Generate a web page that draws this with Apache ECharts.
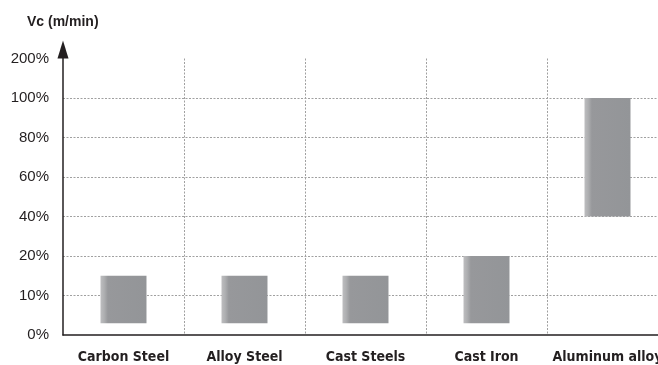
<!DOCTYPE html>
<html><head><meta charset="utf-8">
<script src="https://cdn.jsdelivr.net/npm/echarts@6/dist/echarts.min.js"></script>
<style>html,body{margin:0;padding:0;background:#fff}#c{width:658px;height:365px}</style>
</head><body><div id="c"></div>
<script>
const categories = ['Carbon Steel', 'Alloy Steel', 'Cast Steels', 'Cast Iron', 'Aluminum alloy'];
const tickValues = [0, 10, 20, 40, 60, 80, 100, 200];
const tickLabels = ['0%', '10%', '20%', '40%', '60%', '80%', '100%', '200%'];
const lowPct = [3, 3, 3, 3, 40];
const highPct = [15, 15, 15, 20, 100];

// map a percentage onto the chart's stepped axis (one step per tick)
function toAxis(p) {
  for (let i = 1; i < tickValues.length; i++) {
    if (p <= tickValues[i]) {
      return (i - 1) + (p - tickValues[i - 1]) / (tickValues[i] - tickValues[i - 1]);
    }
  }
  return tickValues.length - 1;
}
const baseVals = lowPct.map(toAxis);
const spanVals = highPct.map((h, i) => toAxis(h) - toAxis(lowPct[i]));

const chart = echarts.init(document.getElementById('c'), null, {renderer: 'canvas'});
chart.setOption({
  animation: false,
  backgroundColor: '#fff',
  title: {
    text: 'Vc (m/min)', left: 22, top: 10,
    textStyle: {fontFamily: 'Liberation Sans, Arial, sans-serif', fontWeight: 'bold', fontSize: 14, color: '#231f20'}
  },
  grid: {left: 63, width: 605, top: 58.5, bottom: 30, containLabel: false, outerBoundsMode: 'none'},
  xAxis: {
    type: 'category', data: categories,
    axisLine: {lineStyle: {color: '#231f20', width: 1.5}},
    axisTick: {show: false},
    axisLabel: {interval: 0, margin: 15, color: '#231f20', fontFamily: 'DejaVu Sans Condensed, Liberation Sans Narrow, Arial Narrow, sans-serif', fontWeight: 'bold', fontSize: 14},
    splitLine: {show: true, interval: 0, showMinLine: false, lineStyle: {color: '#a0a0a0', type: [2, 1.5], width: 1}}
  },
  yAxis: {
    type: 'value', min: 0, max: tickLabels.length - 1, interval: 1,
    axisLine: {show: true, symbol: ['none', 'triangle'], symbolSize: [11, 18], symbolOffset: [0, 9], lineStyle: {color: '#231f20', width: 1.5}},
    axisTick: {show: false},
    axisLabel: {margin: 14, color: '#231f20', fontFamily: 'Liberation Sans, Arial, sans-serif', fontSize: 15,
      formatter: v => tickLabels[Math.round(v)] || ''},
    splitLine: {show: true, showMinLine: false, showMaxLine: false, lineStyle: {color: '#a0a0a0', type: [2, 1.5], width: 1}}
  },
  series: [
    {type: 'bar', stack: 'r', data: baseVals, barWidth: '38%', itemStyle: {color: 'transparent'}, silent: true},
    {type: 'bar', stack: 'r', data: spanVals, barWidth: '38%',
      itemStyle: {color: new echarts.graphic.LinearGradient(0, 0, 1, 0, [
        {offset: 0, color: '#bdbdbf'}, {offset: 0.08, color: '#aeafb1'}, {offset: 0.16, color: '#97989b'}, {offset: 1, color: '#939598'}
      ])}}
  ]
});
</script></body></html>
